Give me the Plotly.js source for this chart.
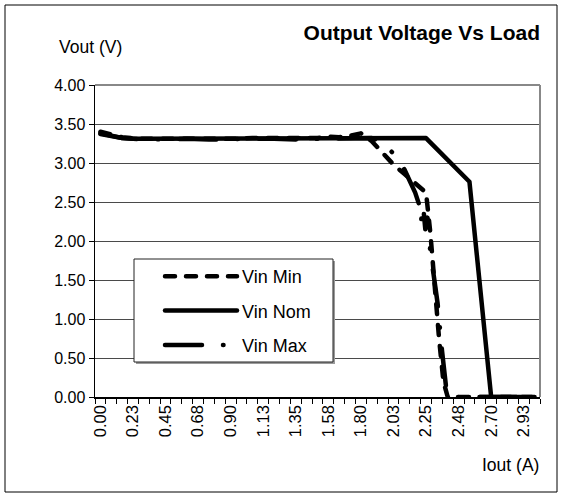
<!DOCTYPE html>
<html>
<head>
<meta charset="utf-8">
<script src="https://cdn.plot.ly/plotly-3.0.1.min.js"></script>
<style>
  html, body { margin: 0; padding: 0; background: #fff; }
  #chart { width: 565px; height: 499px; }
  .js-line { stroke-linecap: round; stroke-linejoin: round; }
</style>
</head>
<body>
<div id="chart"></div>
<script>
// ---- data ----
const tickValues = [0, 0.225, 0.45, 0.675, 0.9, 1.125, 1.35, 1.575, 1.8, 2.025, 2.25, 2.475, 2.7, 2.925];
const tickLabels = ["0.00", "0.23", "0.45", "0.68", "0.90", "1.13", "1.35", "1.58", "1.80", "2.03", "2.25", "2.48", "2.70", "2.93"];

const minX = [0, 0.075, 0.15, 0.3, 0.45, 0.6, 0.75, 0.9, 1.05, 1.2, 1.35, 1.5, 1.575, 1.65, 1.725, 1.8, 1.875, 1.95, 2.025, 2.1, 2.175, 2.25, 2.28, 2.31, 2.34, 2.37, 2.4, 2.55, 2.7, 2.85, 3.0];
const minY = [3.40, 3.36, 3.33, 3.31, 3.31, 3.30, 3.31, 3.31, 3.32, 3.32, 3.31, 3.32, 3.34, 3.33, 3.35, 3.38, 3.28, 3.12, 2.98, 2.86, 2.74, 2.62, 2.10, 1.40, 0.75, 0.20, 0, 0, 0, 0, 0];

const nomX = [0, 0.075, 0.15, 0.225, 0.3, 0.45, 0.6, 0.75, 0.9, 1.05, 1.2, 1.35, 1.5, 1.65, 1.8, 1.95, 2.1, 2.25, 2.55, 2.7, 2.85, 3.0];
const nomY = [3.37, 3.34, 3.32, 3.31, 3.31, 3.31, 3.31, 3.31, 3.31, 3.31, 3.31, 3.31, 3.31, 3.31, 3.31, 3.31, 3.31, 3.32, 2.76, 0, 0, 0];

const maxX = [0, 0.075, 0.15, 0.3, 0.45, 0.6, 0.75, 0.9, 1.05, 1.2, 1.35, 1.5, 1.65, 1.8, 1.875, 1.95, 2.025, 2.1, 2.175, 2.2, 2.215, 2.23, 2.245, 2.26, 2.28, 2.3, 2.33, 2.36, 2.39, 2.41, 2.55, 2.7, 2.85, 3.0];
const maxY = [3.38, 3.35, 3.32, 3.30, 3.31, 3.31, 3.30, 3.31, 3.31, 3.31, 3.30, 3.31, 3.31, 3.32, 3.32, 3.26, 3.12, 2.92, 2.62, 2.48, 2.25, 2.45, 2.15, 2.30, 1.85, 1.60, 1.20, 0.60, 0.10, 0, 0, 0, 0, 0];

const seriesNames = ["Vin Min", "Vin Nom", "Vin Max"];

// ---- traces ----
const FONT = "Liberation Sans, Arial, sans-serif";
const LW = 4.5;
const traces = [
  { x: minX, y: minY, name: seriesNames[0], legendgroup: "a", mode: "lines",
    line: { color: "#000", width: LW, dash: "10px,11px" } },
  { x: nomX, y: nomY, name: seriesNames[1], legendgroup: "b", mode: "lines",
    line: { color: "#000", width: LW, dash: "solid" } },
  { x: maxX, y: maxY, name: seriesNames[2], legendgroup: "c", mode: "lines",
    line: { color: "#000", width: LW, dash: "37px,21px,0.5px,21px" } }
];

// plot area in pixels: left 95, right 540, top 85, bottom 397
const L = 95, R = 540, T = 85, B = 397;
const px = v => (v - L) / (R - L);
const py = v => (B - v) / (B - T);

const layout = {
  width: 565, height: 499,
  margin: { l: L, r: 565 - R, t: T, b: 499 - B, pad: 0 },
  paper_bgcolor: "#fff", plot_bgcolor: "#fff",
  font: { family: FONT, size: 16, color: "#000" },
  title: { text: "<b>Output Voltage Vs Load</b>", font: { family: FONT, size: 21, color: "#000" },
           x: 1, xref: "paper", xanchor: "right", y: 1 - 33 / 499, yref: "container", yanchor: "middle" },
  xaxis: {
    range: [-0.0375, 3.0375], showgrid: false, zeroline: false,
    showline: true, linecolor: "#000", linewidth: 1.5,
    tickmode: "array", tickvals: tickValues, ticktext: tickLabels,
    ticks: "", tickangle: -90, tickfont: { family: FONT, size: 16.5, color: "#000" },
    minor: { ticks: "outside", ticklen: 5, tickcolor: "#000", tickwidth: 1, tick0: -0.0375, dtick: 0.075, showgrid: false }
  },
  yaxis: {
    range: [0, 4], dtick: 0.5, tick0: 0, tickformat: ".2f",
    showgrid: true, gridcolor: "#4a4a4a", gridwidth: 1, zeroline: false,
    showline: true, linecolor: "#000", linewidth: 1.5,
    ticks: "outside", ticklen: 5, tickcolor: "#000",
    tickfont: { family: FONT, size: 16, color: "#000" }
  },
  showlegend: true,
  legend: {
    x: px(160), y: py(258), xanchor: "left", yanchor: "top",
    bgcolor: "rgba(0,0,0,0)", borderwidth: 0,
    font: { family: FONT, size: 18, color: "#000" },
    traceorder: "grouped", tracegroupgap: 8, itemwidth: 72
  },
  annotations: [
    { text: "Vout (V)", xref: "paper", yref: "paper", x: px(57), y: py(47), xanchor: "left", yanchor: "middle",
      showarrow: false, font: { family: FONT, size: 17.5, color: "#000" } },
    { text: "Iout (A)", xref: "paper", yref: "paper", x: 1.003, y: py(465), xanchor: "right", yanchor: "middle",
      showarrow: false, font: { family: FONT, size: 17.5, color: "#000" } }
  ],
  shapes: [
    // plot frame (top/right gray)
    { type: "line", xref: "paper", yref: "paper", x0: 0, x1: 1, y0: 1, y1: 1, line: { color: "#888", width: 2 } },
    { type: "line", xref: "paper", yref: "paper", x0: 1, x1: 1, y0: 0, y1: 1, line: { color: "#888", width: 2 } },
    // legend box shadow + box
    { type: "rect", xref: "paper", yref: "paper", layer: "above", x0: px(136), x1: px(335), y0: py(364), y1: py(261),
      line: { width: 0 }, fillcolor: "#9a9a9a" },
    { type: "rect", xref: "paper", yref: "paper", layer: "above", x0: px(134), x1: px(333), y0: py(362), y1: py(259),
      line: { color: "#222", width: 1 }, fillcolor: "#fff" },
    // outer chart border
    { type: "rect", xref: "paper", yref: "paper", x0: px(5), x1: px(557), y0: py(492), y1: py(5),
      line: { color: "#000", width: 1 }, fillcolor: "rgba(0,0,0,0)" }
  ]
};

Plotly.newPlot("chart", traces, layout, { displayModeBar: false, staticPlot: true });
</script>
</body>
</html>
